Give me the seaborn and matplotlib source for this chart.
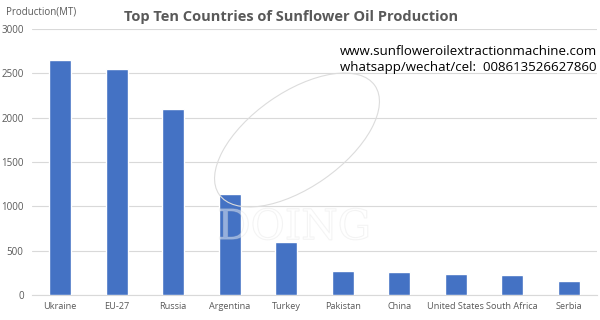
import matplotlib
matplotlib.use("Agg")
import matplotlib.pyplot as plt
import matplotlib.patheffects as pe
from matplotlib.patches import Ellipse
from matplotlib.transforms import IdentityTransform
import seaborn as sns
import pandas as pd
from matplotlib.ticker import FixedLocator

countries = ["Ukraine", "EU-27", "Russia", "Argentina", "Turkey", "Pakistan",
             "China", "United States", "South Africa", "Serbia"]
production = [2650, 2550, 2100, 1145, 600, 270, 265, 237, 230, 160]
yticks = [0, 500, 1000, 1500, 2000, 2500, 3000]

df = pd.DataFrame({"country": countries, "production": production})

sns.set_theme(style="white")
plt.rcParams["font.family"] = ["Open Sans", "DejaVu Sans"]

fig = plt.figure(figsize=(6, 3.2), dpi=100)
ax = fig.add_axes([0.0533, 0.078, 0.9417, 0.831])

sns.barplot(data=df, x="country", y="production", color="#4472C4",
            saturation=1, width=0.39, ax=ax, zorder=3)

ax.set_ylim(0, 3000)
ax.set_xlim(-0.5, len(countries) - 0.5)
ax.set_yticks(yticks)
ax.set_yticklabels([str(v) for v in yticks], fontsize=7, color="#595959")
ax.tick_params(axis="y", length=0, pad=6)
ax.tick_params(axis="x", which="major", length=0, labelsize=6.6, labelcolor="#595959", pad=5)
ax.xaxis.set_minor_locator(FixedLocator([i - 0.5 for i in range(len(countries) + 1)]))
ax.tick_params(axis="x", which="minor", length=4, color="#d9d9d9", width=0.8, direction="out")
ax.grid(axis="y", color="#d9d9d9", linewidth=0.8, zorder=0)
ax.set_axisbelow(True)
for s in ["top", "right", "left"]:
    ax.spines[s].set_visible(False)
ax.spines["bottom"].set_color("#d9d9d9")
ax.spines["bottom"].set_linewidth(0.8)
ax.set_xlabel("")
ax.set_ylabel("")

fig.text(0.01, 0.962, "Production(MT)", fontsize=7, color="#595959", va="center", ha="left")
fig.text(0.485, 0.947, "Top Ten Countries of Sunflower Oil Production", fontsize=10.5,
         fontweight="bold", color="#595959", ha="center", va="center")

# faint watermark logo
logo = Ellipse((297, 320 - 140), 190, 95, angle=35, fill=False, edgecolor="#dcdcdc",
               linewidth=0.8, transform=IdentityTransform(), zorder=5)
fig.add_artist(logo)
t = fig.text(0.49, 0.29, "DOING", fontsize=30, family="DejaVu Serif", color="white",
             alpha=0.25, ha="center", va="center", zorder=5)
t.set_path_effects([pe.Stroke(linewidth=0.8, foreground="#cfcfcf"), pe.Normal()])

fig.text(0.995, 0.838, "www.sunfloweroilextractionmachine.com", fontsize=9.5,
         color="black", ha="right", va="center")
fig.text(0.995, 0.788, "whatsapp/wechat/cel:  008613526627860", fontsize=9.5,
         color="black", ha="right", va="center")

fig.savefig("out.png", dpi=100)
